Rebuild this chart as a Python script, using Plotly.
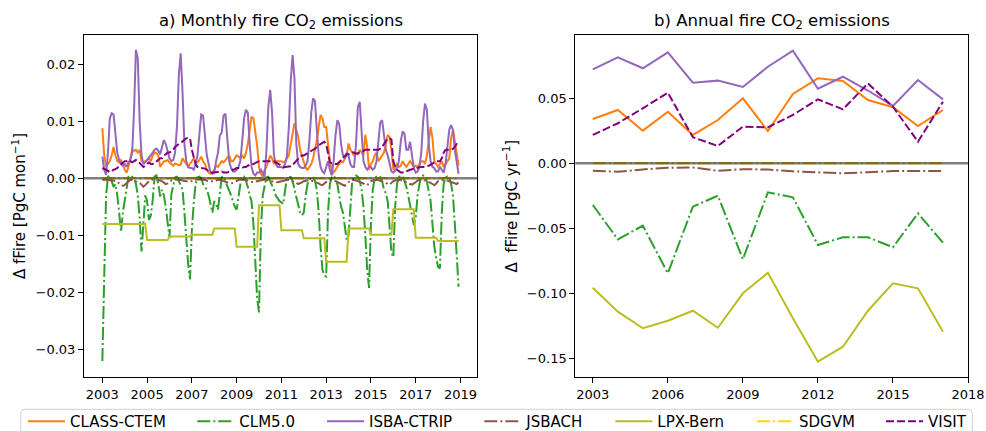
import plotly.graph_objects as go

# ---------------- data ----------------
models = ["CLASS-CTEM", "CLM5.0", "ISBA-CTRIP", "JSBACH", "LPX-Bern", "SDGVM", "VISIT"]
colors = ["#ff7f0e", "#2ca02c", "#9467bd", "#8c564b", "#bcbd22", "#ffd700", "#800080"]
dashes = ["solid", "13px,3px,2px,3px", "solid", "13px,3px,2px,3px", "solid", "13px,3px,2px,3px", "8px,3px"]

month_years = list(range(2003, 2019))
annual_years = list(range(2003, 2018))

# monthly Δ fFire [PgC mon-1], Jan..Dec for 2003..2018
class_ctem_m = [
    .0088, .004, .002, .0025, .003, .004, .0055, .004, .003, .0028, .0032, .0025,
    .0015, .001, .002, .0035, .005, .0048, .005, .0045, .005, .003, .0028, .003,
    .0032, .0036, .003, .004, .0045, .0044, .004, .002, .0025, .003, .003, .0032,
    .0028, .0025, .0022, .0026, .0025, .0023, .0024, .0035, .003, .0025, .002, .0025,
    .003, .0035, .003, .0028, .0032, .0038, .003, .0025, .0015, .001, .0008, .001,
    .0015, .0022, .002, .0025, .003, .0028, .0032, .0035, .004, .003, .003, .0035,
    .004, .0038, .0035, .004, .0035, .0045, .006, .0085, .0108, .0105, .008, .0057,
    .002, .0008, .0003, .0015, .002, .003, .004, .0035, .0025, .003, .003, .003,
    .003, .0028, .003, .0035, .004, .006, .0075, .0096, .0085, .0073, .005, .004,
    .003, .0018, .0015, .002, .0025, .0035, .005, .0066, .009, .0111, .0105, .009,
    .009, .0053, .003, .0015, .001, .0015, .002, .0025, .003, .0028, .0035, .004,
    .0061, .005, .0045, .004, .0044, .0042, .005, .0045, .004, .0076, .0055, .0015,
    .0025, .003, .004, .0045, .003, .0035, .004, .0045, .006, .0076, .0072, .005,
    .0015, .002, .0025, .002, .0022, .003, .0025, .002, .0025, .003, .0025, .002,
    .0022, .002, .0025, .003, .003, .0025, .004, .0065, .009, .007, .003, .0025,
    .002, .0025, .003, .002, .0025, .003, .0035, .007, .0085, .0065, .004, .0022,
]
clm50_m = [
    -.032, -.014, -.003, .0003, .0005, -.0005, -.0015, -.001, -.003, -.006, -.0094, -.006,
    -.004, -.0015, .0003, .0005, .0002, 0.0, -.001, -.003, -.007, -.0128, -.008, -.003,
    -.004, -.0073, -.0065, -.0038, .0003, .0005, -.001, -.0032, -.002, -.003, -.005, -.008,
    -.0105, -.0028, -.001, .0002, .0003, -.0005, -.001, -.002, -.006, -.011, -.015, -.0177,
    -.009, -.0043, -.001, .0002, .0003, 0.0, -.001, -.0015, -.002, -.003, -.0045, -.006,
    -.004, -.0045, -.0055, -.002, .0002, .0003, -.0005, -.0015, -.002, -.003, -.004, -.005,
    -.0055, -.003, -.001, .0002, .0003, -.0005, -.0015, -.003, -.004, -.008, -.015, -.021,
    -.0235, -.009, -.003, -.001, .0002, .0003, -.0005, -.001, -.002, -.003, -.0035, -.004,
    -.0042, -.0045, -.002, 0.0, .0003, .0002, -.0005, -.002, -.003, -.005, -.006, -.0065,
    -.006, -.003, -.001, -.0003, .0002, .0003, -.0005, -.002, -.006, -.012, -.016, -.017,
    -.0172, -.006, -.001, .0002, .0005, 0.0, -.001, -.003, -.005, -.006, -.009, -.0108,
    -.01, -.004, -.0003, .0002, .0005, .0003, -.0005, -.002, -.005, -.01, -.016, -.0192,
    -.008, -.002, 0.0, .0003, .0005, .0002, -.0005, -.002, -.0026, -.004, -.009, -.013,
    -.0138, -.005, -.001, .0002, .0005, .0003, -.0005, -.0015, -.003, -.005, -.007, -.0082,
    -.007, -.003, -.001, .0002, .0005, .0003, -.0005, -.002, -.004, -.008, -.012, -.014,
    -.0155, -.0158, -.006, -.001, .0002, .0003, 0.0, -.001, -.003, -.008, -.014, -.019,
]
isba_ctrip_m = [
    .0038, .0015, .0006, .0045, .0105, .0114, .0112, .0075, .0045, .0032, .0025, .0022,
    .0025, .002, .0028, .0032, .0045, .012, .0225, .021, .010, .004, .0025, .0028,
    .0032, .0035, .004, .0045, .005, .0052, .0048, .0042, .0055, .0067, .006, .0045,
    .0035, .003, .0032, .0045, .009, .018, .0219, .015, .006, .003, .002, .0018,
    .0018, .0015, .0025, .004, .0075, .0112, .011, .007, .004, .0025, .001, .0008,
    .001, .003, .0045, .0075, .008, .011, .0113, .007, .003, .0018, .0012, .0012,
    .0015, .002, .003, .0065, .0105, .012, .0115, .006, .002, .0008, .0005, .001,
    .001, .0015, .0008, .0003, .005, .0125, .0155, .0115, .004, .0025, .002, .002,
    .002, .0018, .0025, .004, .009, .017, .0216, .0175, .006, .0025, .002, .0018,
    .0018, .0022, .003, .0065, .0115, .014, .0135, .0085, .004, .002, .0012, .0009,
    .002, .003, .0015, .0005, .003, .0075, .0102, .0095, .006, .004, .0035, .0045,
    .004, .0025, .002, .002, .006, .0125, .0134, .0085, .003, .002, .0015, .002,
    .002, .0015, .0018, .003, .0065, .0098, .0102, .008, .005, .004, .0025, .0012,
    .001, .0015, .0018, .003, .0065, .0082, .0078, .005, .005, .0064, .004, .0018,
    .001, .0012, .002, .0045, .01, .0131, .012, .006, .003, .002, .0018, .0012,
    .0012, .002, .0015, .001, .0025, .006, .0085, .0093, .0085, .005, .0025, .0008,
]
jsbach_m = [
    -.0003, -.0002, -.0002, -.0003, -.0003, -.0004, -.0004, -.0005, -.0006, -.0009, -.0012, -.0013,
    -.0012, -.0008, -.0005, -.0003, -.0003, -.0004, -.0005, -.0006, -.0008, -.0011, -.0015, -.0012,
    -.0008, -.0005, -.0003, -.0002, -.0003, -.0003, -.0004, -.0004, -.0005, -.0007, -.001, -.0009,
    -.0006, -.0004, -.0002, -.0002, -.0002, -.0003, -.0003, -.0004, -.0004, -.0005, -.0006, -.0006,
    -.0005, -.0003, -.0002, -.0002, -.0002, -.0002, -.0003, -.0003, -.0004, -.0005, -.0006, -.0005,
    -.0004, -.0003, -.0003, -.0003, -.0004, -.0005, -.0006, -.0007, -.0008, -.0009, -.0008, -.0006,
    -.0004, -.0003, -.0002, -.0002, -.0003, -.0003, -.0004, -.0005, -.0006, -.0007, -.0006, -.0005,
    -.0004, -.0003, -.0003, -.0002, -.0003, -.0003, -.0004, -.0005, -.0006, -.0007, -.0007, -.0006,
    -.0005, -.0004, -.0003, -.0003, -.0003, -.0004, -.0005, -.0006, -.0008, -.001, -.0009, -.0007,
    -.0005, -.0004, -.0003, -.0003, -.0004, -.0005, -.0006, -.0007, -.0009, -.0011, -.0012, -.0009,
    -.0006, -.0004, -.0003, -.0003, -.0004, -.0005, -.0006, -.0008, -.001, -.0012, -.0013, -.001,
    -.0006, -.0004, -.0003, -.0003, -.0004, -.0005, -.0006, -.0007, -.0009, -.0011, -.0012, -.0008,
    -.0005, -.0004, -.0003, -.0003, -.0003, -.0004, -.0005, -.0006, -.0008, -.001, -.0011, -.0008,
    -.0005, -.0004, -.0003, -.0003, -.0003, -.0004, -.0005, -.0006, -.0008, -.001, -.0011, -.0009,
    -.0006, -.0004, -.0003, -.0003, -.0003, -.0004, -.0005, -.0006, -.0008, -.001, -.0012, -.0009,
    -.0005, -.0004, -.0003, -.0003, -.0003, -.0004, -.0005, -.0006, -.0008, -.0009, -.001, -.0007,
]
lpx_bern_m = [
    -.008, -.008, -.008, -.008, -.008, -.008, -.008, -.008, -.008, -.008, -.008, -.008,
    -.008, -.008, -.008, -.008, -.008, -.008, -.008, -.008, -.008, -.008, -.008, -.008,
    -.0108, -.0108, -.0108, -.0108, -.0108, -.0108, -.0108, -.0108, -.0108, -.0108, -.0108, -.0108,
    -.0102, -.0102, -.0102, -.0102, -.0102, -.0102, -.0102, -.0102, -.0102, -.0102, -.0102, -.0102,
    -.0099, -.0099, -.0099, -.0099, -.0099, -.0099, -.0099, -.0099, -.0099, -.0099, -.0099, -.0099,
    -.0088, -.0088, -.0088, -.0088, -.0088, -.0088, -.0088, -.0088, -.0088, -.0088, -.0088, -.0088,
    -.012, -.012, -.012, -.012, -.012, -.012, -.012, -.012, -.012, -.012, -.012, -.012,
    -.0047, -.0047, -.0047, -.0047, -.0047, -.0047, -.0047, -.0047, -.0047, -.0047, -.0047, -.0047,
    -.0091, -.0091, -.0091, -.0091, -.0091, -.0091, -.0091, -.0091, -.0091, -.0091, -.0091, -.0091,
    -.0105, -.0105, -.0105, -.0105, -.0105, -.0105, -.0105, -.0105, -.0105, -.0105, -.0105, -.0105,
    -.0146, -.0146, -.0146, -.0146, -.0146, -.0146, -.0146, -.0146, -.0146, -.0146, -.0146, -.0146,
    -.0088, -.0088, -.0088, -.0088, -.0088, -.0088, -.0088, -.0088, -.0088, -.0088, -.0088, -.0088,
    -.0099, -.0099, -.0099, -.0099, -.0099, -.0099, -.0099, -.0099, -.0099, -.0099, -.0099, -.0099,
    -.0054, -.0054, -.0054, -.0054, -.0054, -.0054, -.0054, -.0054, -.0054, -.0054, -.0054, -.0054,
    -.0104, -.0104, -.0104, -.0104, -.0104, -.0104, -.0104, -.0104, -.0104, -.0104, -.0104, -.0104,
    -.011, -.011, -.011, -.011, -.011, -.011, -.011, -.011, -.011, -.011, -.011, -.011,
]
sdgvm_m = [0.0] * 192
visit_m = [
    .0018, .0017, .0015, .0013, .0011, .0012, .0015, .0016, .0018, .0022, .0025, .0028,
    .003, .003, .0032, .003, .0028, .003, .0032, .003, .0026, .0022, .002, .0022,
    .0025, .0028, .0025, .0025, .0027, .003, .0032, .0035, .0035, .004, .0042, .0045,
    .0045, .0048, .005, .0055, .0058, .006, .0062, .0065, .0068, .007, .0071, .007,
    .005, .0035, .0025, .002, .0018, .0018, .0018, .0017, .0015, .0012, .001, .001,
    .001, .001, .001, .0011, .0012, .001, .001, .001, .0012, .0014, .0015, .0016,
    .0018, .0018, .0018, .0018, .002, .002, .0022, .0024, .0025, .0025, .0027, .0028,
    .003, .003, .003, .0031, .003, .003, .003, .003, .003, .0028, .0026, .0024,
    .0022, .002, .002, .002, .002, .0021, .0023, .0027, .003, .0035, .0038, .004,
    .004, .0042, .0044, .0045, .0047, .005, .0052, .0055, .0058, .006, .0062, .0064,
    .006, .004, .0028, .0026, .0025, .0025, .0025, .0028, .0032, .0036, .004, .0042,
    .0042, .0044, .0045, .0045, .0043, .0044, .0045, .0046, .0048, .005, .005, .005,
    .005, .005, .005, .005, .005, .0052, .0055, .006, .0065, .007, .007, .0068,
    .003, .002, .0015, .0012, .001, .001, .001, .0012, .0014, .0015, .0016, .0017,
    .0018, .0019, .0019, .002, .002, .002, .0021, .0022, .0024, .0026, .0028, .003,
    .003, .003, .0035, .0045, .005, .005, .005, .005, .0052, .0055, .006, .006,
]

# annual Δ fFire [PgC yr-1], 2003..2017
class_ctem_a = [0.0341, 0.0410, 0.0251, 0.0397, 0.0218, 0.0333, 0.0500, 0.0248, 0.0533, 0.0654, 0.0633, 0.0487, 0.0431, 0.0287, 0.0410]
clm50_a = [-0.0321, -0.0585, -0.0480, -0.0846, -0.0334, -0.0249, -0.0738, -0.0223, -0.0262, -0.0628, -0.0569, -0.0569, -0.0646, -0.0385, -0.0611]
isba_ctrip_a = [0.0723, 0.0815, 0.0731, 0.0854, 0.0620, 0.0636, 0.0587, 0.0743, 0.0866, 0.0574, 0.0666, 0.0560, 0.0441, 0.0641, 0.0492]
jsbach_a = [-0.0057, -0.0065, -0.0047, -0.0034, -0.0032, -0.0058, -0.0045, -0.0048, -0.0062, -0.0072, -0.0077, -0.0068, -0.0060, -0.0060, -0.0060]
lpx_bern_a = [-0.0957, -0.1141, -0.1269, -0.1211, -0.1134, -0.1265, -0.1000, -0.0842, -0.1192, -0.1526, -0.1411, -0.1134, -0.0923, -0.0962, -0.1295]
sdgvm_a = [0.0] * 15
visit_a = [0.0218, 0.0308, 0.0423, 0.0543, 0.0200, 0.0133, 0.0282, 0.0277, 0.0372, 0.0492, 0.0415, 0.0615, 0.0435, 0.0166, 0.0474]

left_yticks = [-0.03, -0.02, -0.01, 0.0, 0.01, 0.02]
left_yticktext = ["\u22120.03", "\u22120.02", "\u22120.01", "0.00", "0.01", "0.02"]
left_xticks = [2003, 2005, 2007, 2009, 2011, 2013, 2015, 2017, 2019]
right_yticks = [-0.15, -0.10, -0.05, 0.0, 0.05]
right_yticktext = ["\u22120.15", "\u22120.10", "\u22120.05", "0.00", "0.05"]
right_xticks = [2003, 2006, 2009, 2012, 2015, 2018]

# ---------------- figure ----------------
W, H = 986, 431
FONT = "DejaVu Sans"
month_x = [y + m / 12 for y in month_years for m in range(12)]

monthly = [class_ctem_m, clm50_m, isba_ctrip_m, jsbach_m, lpx_bern_m, sdgvm_m, visit_m]
annual = [class_ctem_a, clm50_a, isba_ctrip_a, jsbach_a, lpx_bern_a, sdgvm_a, visit_a]

fig = go.Figure()
legend_keys = ["legend", "legend2", "legend3", "legend4", "legend5", "legend6", "legend7"]
for i, name in enumerate(models):
    fig.add_trace(go.Scatter(
        x=month_x, y=monthly[i], mode="lines", name=name,
        line=dict(color=colors[i], width=2, dash=dashes[i]),
        xaxis="x", yaxis="y", legend=legend_keys[i], showlegend=True))
for i, name in enumerate(models):
    fig.add_trace(go.Scatter(
        x=annual_years, y=annual[i], mode="lines", name=name,
        line=dict(color=colors[i], width=2, dash=dashes[i]),
        xaxis="x2", yaxis="y2", showlegend=False))

def px_x(p):
    return p / W

def px_y(p):
    return 1 - p / H

ax_common = dict(showgrid=False, zeroline=False, showline=True, linecolor="black",
                 linewidth=1, mirror=True, ticks="outside", ticklen=5, tickwidth=1,
                 tickcolor="black", automargin=False,
                 tickfont=dict(family=FONT, size=13, color="black"))

layout = dict(
    width=W, height=H, autosize=False,
    margin=dict(l=0, r=0, t=0, b=0, pad=0, autoexpand=False),
    paper_bgcolor="white", plot_bgcolor="white",
    font=dict(family=FONT, color="black"),
    xaxis=dict(domain=[px_x(84), px_x(477)], range=[2002.18, 2019.74],
               tickvals=left_xticks, anchor="y", **ax_common),
    yaxis=dict(domain=[px_y(377), px_y(35)], range=[-0.0348, 0.0251],
               tickvals=left_yticks, ticktext=left_yticktext, anchor="x", **ax_common),
    xaxis2=dict(domain=[px_x(575.3), px_x(968)], range=[2002.3, 2018.0],
                tickvals=right_xticks, anchor="y2", **ax_common),
    yaxis2=dict(domain=[px_y(377), px_y(35)], range=[-0.1644, 0.0987],
                tickvals=right_yticks, ticktext=right_yticktext, anchor="x2", **ax_common),
    showlegend=True,
)

# legends: one per entry, laid out in a single row like the reference
legend_x_px = [23, 192.3, 322, 479.3, 610.3, 752, 881]
for key, lx in zip(legend_keys, legend_x_px):
    layout[key] = dict(x=px_x(lx), xanchor="left", y=px_y(421.5), yanchor="middle",
                       orientation="h", bgcolor="rgba(0,0,0,0)", borderwidth=0,
                       itemwidth=37, font=dict(family=FONT, size=15, color="black"))

fig.update_layout(**layout)

# zero lines
for xr, yr in (("x domain", "y"), ("x2 domain", "y2")):
    fig.add_shape(type="line", xref=xr, yref=yr, x0=0, x1=1, y0=0, y1=0,
                  line=dict(color="rgba(0,0,0,0.5)", width=2.5), layer="above")

# legend frame (rounded, open at the bottom edge of the picture)
lx0, lx1, ly1, ly0 = px_x(20.7), px_x(972.3), px_y(409.3), 0
rx, ry = 4 / W, 4 / H
path = (f"M {lx0},{ly0} L {lx0},{ly1 - ry} Q {lx0},{ly1} {lx0 + rx},{ly1} "
        f"L {lx1 - rx},{ly1} Q {lx1},{ly1} {lx1},{ly1 - ry} L {lx1},{ly0}")
fig.add_shape(type="path", xref="paper", yref="paper", path=path,
              line=dict(color="#d0d0d0", width=1), layer="below")

# titles
fig.add_annotation(x=px_x(280.5), y=px_y(21), xref="paper", yref="paper",
                   text="a) Monthly fire CO<sub>2</sub> emissions", showarrow=False,
                   xanchor="center", yanchor="middle", font=dict(family=FONT, size=16.5))
fig.add_annotation(x=px_x(771.7), y=px_y(21), xref="paper", yref="paper",
                   text="b) Annual fire CO<sub>2</sub> emissions", showarrow=False,
                   xanchor="center", yanchor="middle", font=dict(family=FONT, size=16.5))
# y-axis labels
fig.add_annotation(x=px_x(19), y=px_y(206), xref="paper", yref="paper",
                   text="\u0394 fFire [PgC mon<sup>\u22121</sup>]", showarrow=False, textangle=-90,
                   xanchor="center", yanchor="middle", font=dict(family=FONT, size=15))
fig.add_annotation(x=px_x(510.5), y=px_y(206), xref="paper", yref="paper",
                   text="\u0394  fFire [PgC yr<sup>\u22121</sup>]", showarrow=False, textangle=-90,
                   xanchor="center", yanchor="middle", font=dict(family=FONT, size=15))

fig.write_html("out.html", post_script="document.body.style.margin='0px';",
               config={"displayModeBar": False})
